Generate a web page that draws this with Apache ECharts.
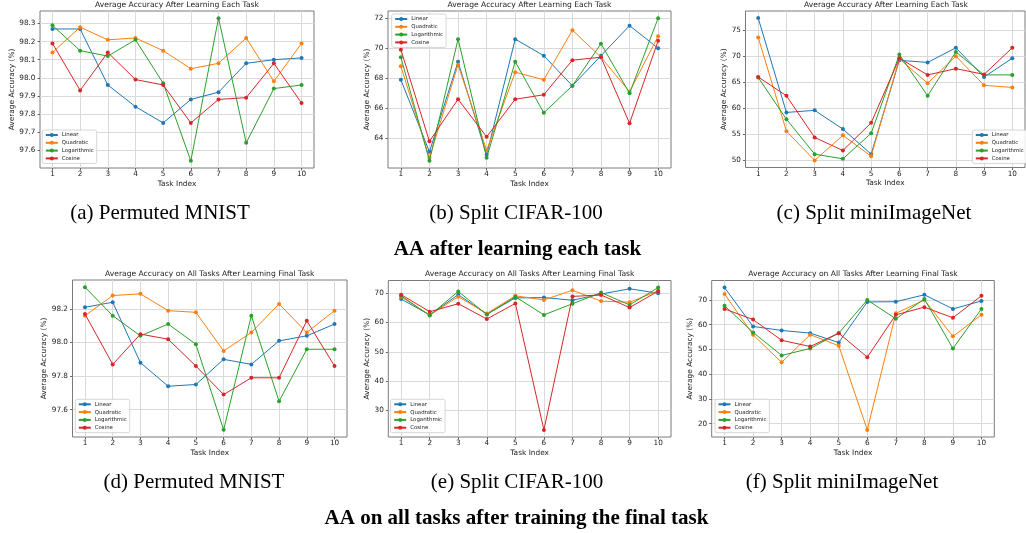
<!DOCTYPE html>
<html><head><meta charset="utf-8">
<script src="https://cdn.jsdelivr.net/npm/echarts@6/dist/echarts.min.js"></script>
<style>html,body{margin:0;padding:0;background:#fff}#c{width:1026px;height:533px}</style>
</head><body><div id="c"></div>
<script>
const tasks = [1,2,3,4,5,6,7,8,9,10];
const methods = ['Linear','Quadratic','Logarithmic','Cosine'];
const colors = ['#1f77b4','#ff7f0e','#2ca02c','#d62728'];

// (a) Permuted MNIST - after learning each task
const aLinear    = [98.27,98.27,97.96,97.84,97.75,97.88,97.92,98.08,98.10,98.11];
const aQuadratic = [98.14,98.28,98.21,98.22,98.15,98.05,98.08,98.22,97.98,98.19];
const aLog       = [98.29,98.15,98.12,98.21,97.97,97.54,98.33,97.64,97.94,97.96];
const aCosine    = [98.19,97.93,98.14,97.99,97.96,97.75,97.88,97.89,98.08,97.86];
// (b) Split CIFAR-100 - after learning each task
const bLinear    = [67.9,63.1,69.1,62.9,70.6,69.5,67.5,69.5,71.5,70.0];
const bQuadratic = [68.8,62.7,68.9,63.2,68.4,67.9,71.2,69.4,67.1,70.8];
const bLog       = [69.4,62.5,70.6,62.7,69.1,65.7,67.5,70.3,67.0,72.0];
const bCosine    = [69.9,63.8,66.6,64.1,66.6,66.9,69.2,69.4,65.0,70.5];
// (c) Split miniImageNet - after learning each task
const cLinear    = [77.3,59.2,59.6,56.0,51.2,69.2,68.8,71.6,66.0,69.6];
const cQuadratic = [73.6,55.6,50.0,54.8,50.8,69.5,64.8,70.0,64.4,64.0];
const cLog       = [65.9,57.9,51.2,50.3,55.2,70.3,62.4,70.8,66.4,66.4];
const cCosine    = [66.0,62.4,54.4,51.9,57.2,69.6,66.4,67.6,66.5,71.6];
// (d) Permuted MNIST - all tasks after final task
const dLinear    = [98.21,98.24,97.88,97.74,97.75,97.90,97.87,98.01,98.04,98.11];
const dQuadratic = [98.16,98.28,98.29,98.19,98.18,97.95,98.06,98.23,98.06,98.19];
const dLog       = [98.33,98.16,98.04,98.11,97.99,97.48,98.16,97.65,97.96,97.96];
const dCosine    = [98.17,97.87,98.05,98.02,97.86,97.69,97.79,97.79,98.13,97.86];
// (e) Split CIFAR-100 - all tasks after final task
const eLinear    = [68.0,62.6,69.5,62.8,68.4,68.5,67.6,69.7,71.5,70.0];
const eQuadratic = [68.8,62.5,68.8,63.1,69.1,67.7,71.0,67.3,66.9,70.8];
const eLog       = [69.1,62.4,70.6,62.7,68.8,62.6,66.4,70.2,66.0,71.9];
const eCosine    = [69.5,63.7,66.4,61.2,66.5,23.4,68.9,69.4,65.1,70.7];
// (f) Split miniImageNet - all tasks after final task
const fLinear    = [75.0,59.3,57.7,56.6,52.8,69.2,69.3,72.1,66.4,69.6];
const fQuadratic = [72.4,55.9,44.8,56.0,51.5,17.5,64.6,70.0,55.3,64.0];
const fLog       = [67.7,56.9,47.6,50.4,56.6,70.0,62.4,70.4,50.4,66.4];
const fCosine    = [66.4,62.1,53.7,51.2,56.6,46.9,64.0,67.1,62.8,71.7];

// tick labels
const aYTicks = [97.6,97.7,97.8,97.9,98.0,98.1,98.2,98.3];
const bYTicks = [64,66,68,70,72];
const cYTicks = [50,55,60,65,70,75];
const dYTicks = [97.6,97.8,98.0,98.2];
const eYTicks = [30,40,50,60,70];
const fYTicks = [20,30,40,50,60,70];

const titleEach = 'Average Accuracy After Learning Each Task';
const titleFinal = 'Average Accuracy on All Tasks After Learning Final Task';
const captions = ['(a) Permuted MNIST','(b) Split CIFAR-100','(c) Split miniImageNet',
                  '(d) Permuted MNIST','(e) Split CIFAR-100','(f) Split miniImageNet'];
const rowTitles = ['AA after learning each task','AA on all tasks after training the final task'];

const panelData = [
  [aLinear,aQuadratic,aLog,aCosine],[bLinear,bQuadratic,bLog,bCosine],[cLinear,cQuadratic,cLog,cCosine],
  [dLinear,dQuadratic,dLog,dCosine],[eLinear,eQuadratic,eLog,eCosine],[fLinear,fQuadratic,fLog,fCosine]
];
const panelTicks = [aYTicks,bYTicks,cYTicks,dYTicks,eYTicks,fYTicks];
const panelDec = [1,0,0,1,0,0];
const panelTitles = [titleEach,titleEach,titleEach,titleFinal,titleFinal,titleFinal];

// layout (pixels)
const layout = [
  {left:40,    top:11,    width:274,   height:157,   yGap:24, tx:177,   ty:5.5,   lg:[42.3,130], cx:160, cy:213.3},
  {left:388,   top:11,    width:283,   height:157,   yGap:16, tx:529.5, ty:5.5,   lg:[391.7,14], cx:516, cy:213.3},
  {left:745.5, top:11,    width:279.5, height:156.5, yGap:17, tx:886,   ty:5.5,   lg:[972.3,130],cx:874, cy:213.3},
  {left:72.5,  top:280,   width:274.5, height:157,   yGap:24, tx:209.7, ty:274.3, lg:[75.3,399.3],cx:194, cy:482.3},
  {left:388.3, top:280.5, width:282.7, height:156.5, yGap:17, tx:529.7, ty:274.3, lg:[390.7,399.3],cx:517, cy:482.3},
  {left:711.7, top:280.5, width:282.6, height:156.5, yGap:16, tx:853,   ty:274.3, lg:[715,399.3],cx:842, cy:482.3}
];

const FONT = '"DejaVu Sans", sans-serif';
const grids = [], xAxes = [], yAxes = [], series = [], legends = [], graphics = [];

layout.forEach((L, p) => {
  const arrs = panelData[p];
  const all = [].concat(...arrs);
  const dmin = Math.min(...all), dmax = Math.max(...all);
  const pad = (dmax - dmin) * 0.05;
  grids.push({left:L.left, top:L.top, width:L.width, height:L.height, show:true,
    borderColor:'#7a7a7a', borderWidth:1, backgroundColor:'transparent', containLabel:false});
  xAxes.push({type:'value', gridIndex:p, min:0.55, max:10.45,
    name:'Task Index', nameLocation:'middle', nameGap:12.5,
    nameTextStyle:{fontFamily:FONT, fontSize:7.4, color:'#222'},
    axisLine:{show:false},
    axisTick:{show:true, length:2.5, lineStyle:{color:'#444', width:0.8}, customValues:tasks},
    axisLabel:{fontFamily:FONT, fontSize:7.3, color:'#222', margin:3, customValues:tasks,
      formatter:v => (Math.abs(v - Math.round(v)) < 1e-6 ? String(Math.round(v)) : '')},
    splitLine:{show:true, lineStyle:{color:'#dadada', width:1}}
  });
  const dec = panelDec[p];
  yAxes.push({type:'value', gridIndex:p, min:dmin - pad, max:dmax + pad,
    name:'Average Accuracy (%)', nameLocation:'middle', nameGap:L.yGap,
    nameTextStyle:{fontFamily:FONT, fontSize:7.4, color:'#222'},
    axisLine:{show:false},
    axisTick:{show:true, length:2.5, lineStyle:{color:'#444', width:0.8}, customValues:panelTicks[p]},
    axisLabel:{fontFamily:FONT, fontSize:7.3, color:'#222', margin:4.5, customValues:panelTicks[p],
      formatter:v => v.toFixed(dec)},
    splitLine:{show:true, lineStyle:{color:'#dadada', width:1}}
  });
  arrs.forEach((arr, k) => {
    series.push({type:'line', name:methods[k], xAxisIndex:p, yAxisIndex:p,
      data:tasks.map((t,i)=>[t, arr[i]]),
      symbol:'circle', symbolSize:4, showSymbol:true,
      itemStyle:{color:colors[k]}, lineStyle:{color:colors[k], width:1},
      z:2+k, animation:false, clip:false});
  });
  legends.push({show:true, orient:'vertical', left:L.lg[0], top:L.lg[1],
    data:methods, itemWidth:12, itemHeight:5, itemGap:2.8,
    padding:[2.5,3,2.5,2.5], backgroundColor:'rgba(255,255,255,0.85)',
    borderColor:'#cccccc', borderWidth:0.8, borderRadius:2,
    selectedMode:false,
    textStyle:{fontFamily:FONT, fontSize:5.4, color:'#222', padding:[0,0,0,-1]}});
  graphics.push({type:'text', x:L.tx, y:L.ty, style:{text:panelTitles[p], font:'7.6px ' + FONT,
    fill:'#222', textAlign:'center', textVerticalAlign:'middle'}});
  graphics.push({type:'text', x:L.cx, y:L.cy, style:{text:captions[p], font:'21px "Liberation Serif", serif',
    fill:'#000', textAlign:'center', textVerticalAlign:'middle'}});
});
graphics.push({type:'text', x:517.5, y:249.3, style:{text:rowTitles[0], font:'bold 21px "Liberation Serif", serif',
  fill:'#000', textAlign:'center', textVerticalAlign:'middle'}});
graphics.push({type:'text', x:516.5, y:518.3, style:{text:rowTitles[1], font:'bold 21px "Liberation Serif", serif',
  fill:'#000', textAlign:'center', textVerticalAlign:'middle'}});

const chart = echarts.init(document.getElementById('c'), null, {renderer:'canvas'});
chart.setOption({
  animation:false,
  backgroundColor:'#fff',
  grid:grids, xAxis:xAxes, yAxis:yAxes, series:series, legend:legends, graphic:graphics
});
</script></body></html>
